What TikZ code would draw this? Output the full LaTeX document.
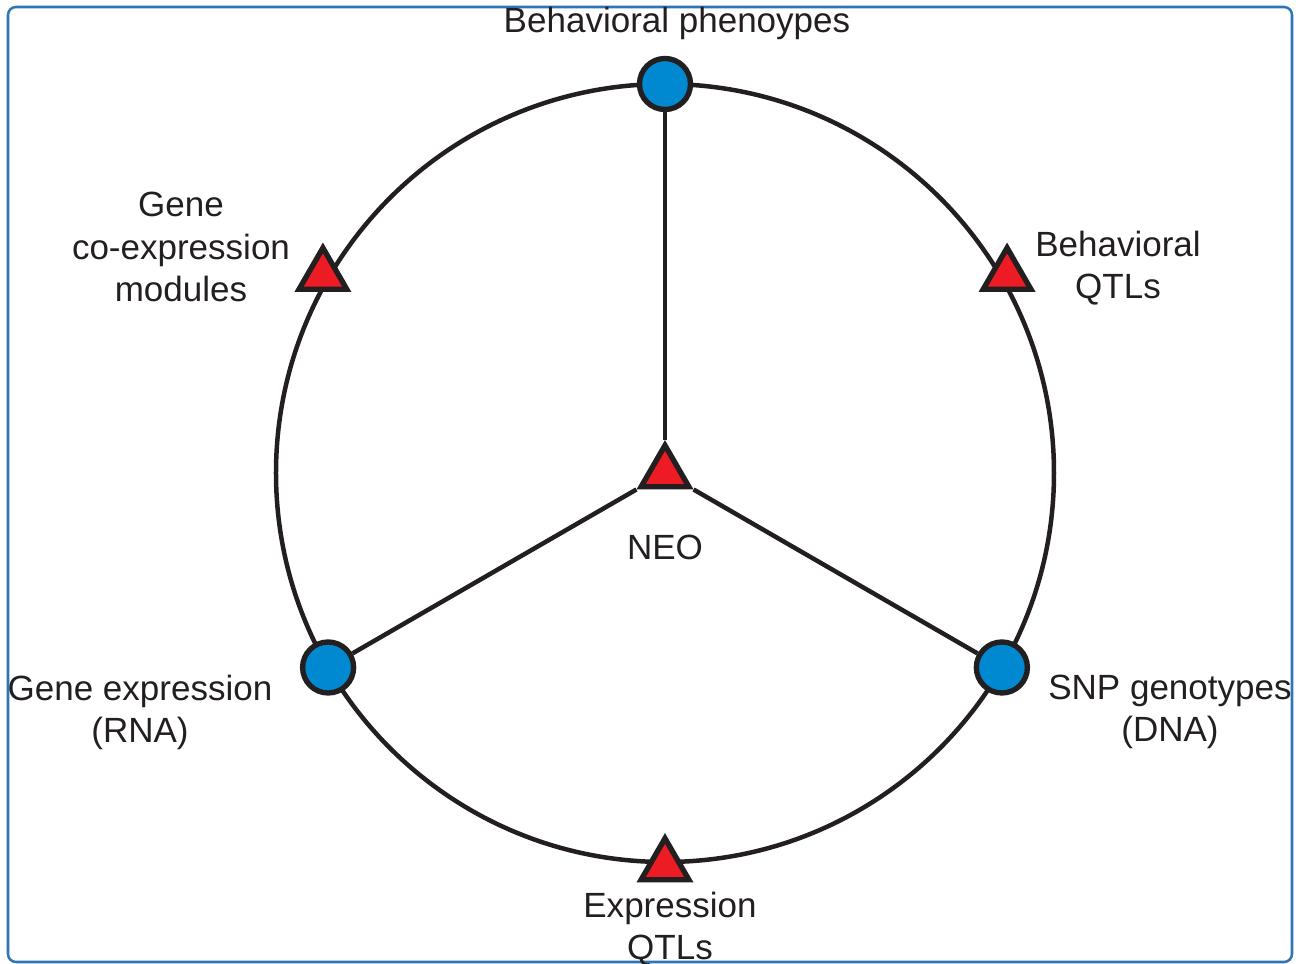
\documentclass[tikz,border=0pt]{standalone}
\usepackage{fontspec}
\setmainfont{Liberation Sans}
\usetikzlibrary{positioning, shapes.geometric}
\definecolor{neoBlue}{RGB}{0, 137, 208}
\definecolor{neoRed}{RGB}{237, 28, 36}
\definecolor{neoDark}{RGB}{35, 31, 32}
\definecolor{neoFrame}{RGB}{46, 117, 182}
\tikzset{
    base/.style={
        font=\fontsize{24.9}{29.9}\selectfont,
        text=neoDark,
        align=center,
        inner sep=0pt
    },
    datum/.style={
        circle,
        draw=neoDark,
        line width=3.8pt,
        fill=neoBlue,
        minimum size=1.275cm,
        inner sep=0pt
    },
    model/.style={
        regular polygon,
        regular polygon sides=3,
        draw=neoDark,
        line width=3.8pt,
        fill=neoRed,
        minimum size=1.38cm,
        inner sep=0pt
    },
    link/.style={
        draw=neoDark,
        line width=3.2pt
    },
    caption/.style={
        base
    }
}

\begin{document}
\begin{tikzpicture}[x=0.025cm, y=0.025cm]
  \useasboundingbox (-665,-491) rectangle (639,473);
  % Frame
  \draw[neoFrame, line width=1.8pt, rounded corners=0.2cm] (-657,466) rectangle (627,-489);

  % Ring
  \draw[link] (0,0) circle (389);

  % Data
  \node[datum] (pheno) at (90:389) {};
  \node[datum] (rna) at (210:389) {};
  \node[datum] (dna) at (330:389) {};

  % Models
  \node[model] (modules) at (150:395) {};
  \node[model] (bqtl) at (30:395) {};
  \node[model] (eqtl) at (270:393) {};
  \node[model] (neo) at (0,0) {};

  % Spokes
  \draw[link] (neo) -- (pheno);
  \draw[link] (neo) -- (rna);
  \draw[link] (neo) -- (dna);

  % Labels
  \node[caption, anchor=base] (phenoLabel) at (12,440) {Behavioral phenoypes};
  \node[caption, anchor=base] (neoLabel) at (0,-87) {NEO};
  \node[caption] (modulesLabel) at (-484,226) {Gene\\co-expression\\modules};
  \node[caption] (bqtlLabel) at (453,205) {Behavioral\\QTLs};
  \node[caption] (rnaLabel) at (-525,-239) {Gene expression\\(RNA)};
  \node[caption] (dnaLabel) at (505,-239) {SNP genotypes\\(DNA)};
  \node[caption] (eqtlLabel) at (5,-456) {Expression\\QTLs};
\end{tikzpicture}
\end{document}
